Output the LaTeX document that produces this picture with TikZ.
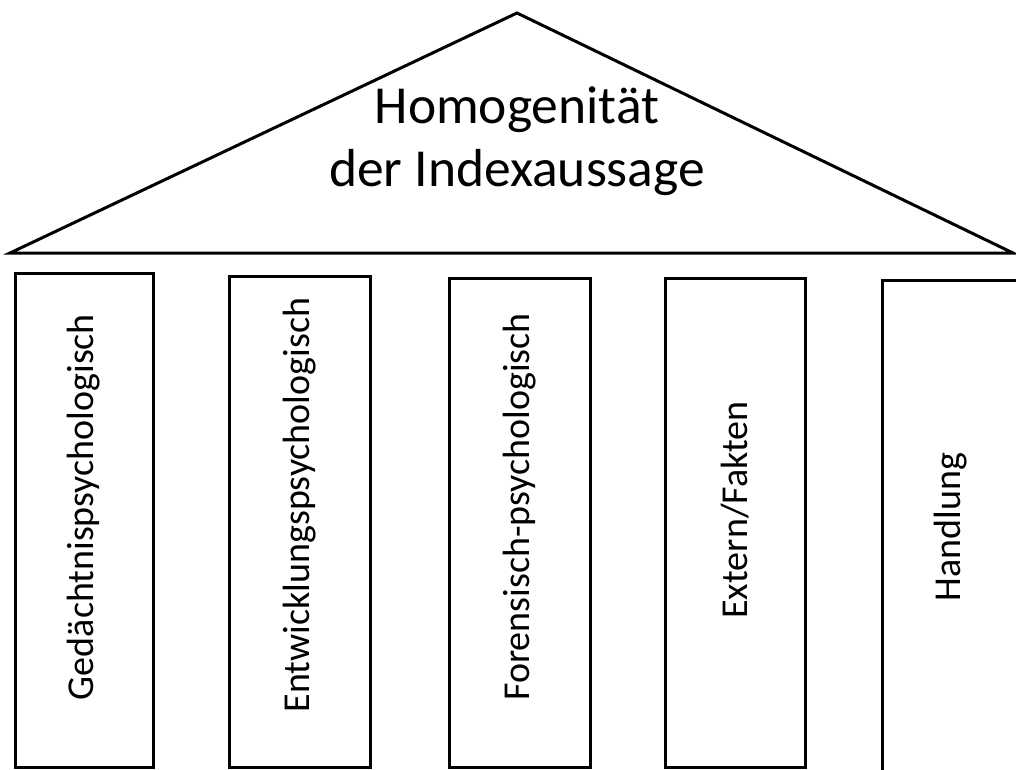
\documentclass[tikz,border=0pt]{standalone}
\usepackage{fontspec}
\setmainfont{Carlito}
\begin{document}
\begin{tikzpicture}[x=1pt,y=-1pt,
  pillar/.style={draw=black, line width=3pt, fill=white, inner sep=0pt},
  plabel/.style={rotate=90, font=\fontsize{38}{44}\selectfont, inner sep=0pt},
  roof/.style={draw=black, line width=3pt, line join=miter, fill=white}]
\useasboundingbox (0,0) rectangle (1016,769);
\clip (0,0) rectangle (1016,769);
\draw[roof] (10,253) coordinate (rl) -- (517,13) coordinate (ra) -- (1013,253) coordinate (rr) -- cycle;
\node[font=\fontsize{53.5}{63}\selectfont, align=center, anchor=base] (title) at (517,186) {Homogenität\\der Indexaussage};
\node[pillar, minimum width=138pt, minimum height=494pt] (p1) at (84,520) {};
\node[pillar, minimum width=141pt, minimum height=491pt] (p2) at (299.5,521.5) {};
\node[pillar, minimum width=141pt, minimum height=489pt] (p3) at (519.5,522.5) {};
\node[pillar, minimum width=140pt, minimum height=489pt] (p4) at (735,522.5) {};
\node[pillar, minimum width=160pt, minimum height=520pt] (p5) at (962,540) {};
\node[plabel] (l1) at (84,507) {Gedächtnispsychologisch};
\node[plabel] (l2) at (299.5,505) {Entwicklungspsychologisch};
\node[plabel] (l3) at (519.5,507) {Forensisch-psychologisch};
\node[plabel] (l4) at (735,510) {Extern/Fakten};
\node[plabel] (l5) at (951,527) {Handlung};
\end{tikzpicture}
\end{document}
